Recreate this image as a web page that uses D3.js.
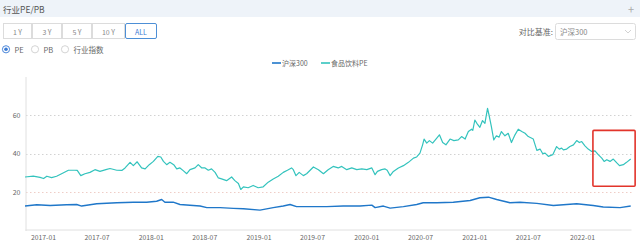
<!DOCTYPE html>
<html><head><meta charset="utf-8">
<script src="https://cdn.jsdelivr.net/npm/d3@7"></script>
<style>
body{margin:0;background:#fff;}
svg{display:block;font-family:"Noto Sans CJK SC","Noto Sans",sans-serif;}
</style>
</head><body><svg id="c" width="640" height="244"></svg>
<script>
// ---------- data ----------
const rangeButtons = ["1 Y","3 Y","5 Y","10 Y","ALL"];
const radioOptions = ["PE","PB","行业指数"];
const seriesNames = ["沪深300","食品饮料PE"];
const xTickLabels = ["2017-01","2017-07","2018-01","2018-07","2019-01","2019-07","2020-01","2020-07","2021-01","2021-07","2022-01"];
const yTickValues = [20,40,60];

const foodDates = ["2016-11-01","2016-11-29","2016-12-22","2017-01-03","2017-01-14","2017-01-30","2017-02-16","2017-03-05","2017-03-28","2017-04-19","2017-04-27","2017-05-09","2017-05-23","2017-06-09","2017-06-26","2017-07-13","2017-08-02","2017-08-16","2017-09-08","2017-09-25","2017-10-06","2017-10-23","2017-11-03","2017-11-16","2017-12-01","2017-12-13","2017-12-27","2018-01-10","2018-01-25","2018-02-04","2018-02-13","2018-02-24","2018-03-07","2018-03-21","2018-03-30","2018-04-10","2018-04-21","2018-05-03","2018-05-14","2018-05-31","2018-06-11","2018-06-23","2018-07-04","2018-07-15","2018-07-26","2018-08-07","2018-08-18","2018-08-29","2018-09-15","2018-10-02","2018-10-13","2018-10-25","2018-11-02","2018-11-11","2018-11-27","2018-12-14","2018-12-31","2019-01-17","2019-02-03","2019-02-20","2019-03-09","2019-03-26","2019-04-09","2019-04-23","2019-04-29","2019-05-08","2019-05-19","2019-06-02","2019-06-13","2019-06-25","2019-07-06","2019-07-23","2019-08-09","2019-08-25","2019-09-11","2019-09-28","2019-10-10","2019-10-27","2019-11-13","2019-11-30","2019-12-17","2020-01-03","2020-01-20","2020-01-31","2020-02-08","2020-02-22","2020-03-05","2020-03-12","2020-03-22","2020-04-02","2020-04-19","2020-05-06","2020-05-23","2020-06-09","2020-06-20","2020-07-01","2020-07-10","2020-07-15","2020-07-24","2020-08-02","2020-08-13","2020-08-27","2020-09-05","2020-09-16","2020-09-27","2020-10-11","2020-10-24","2020-11-08","2020-11-19","2020-12-01","2020-12-12","2020-12-23","2020-12-27","2021-01-03","2021-01-11","2021-01-20","2021-01-29","2021-02-06","2021-02-15","2021-02-20","2021-02-28","2021-03-08","2021-03-17","2021-03-26","2021-04-03","2021-04-15","2021-04-26","2021-05-07","2021-05-19","2021-05-30","2021-06-11","2021-06-22","2021-07-03","2021-07-20","2021-08-01","2021-08-12","2021-08-21","2021-08-29","2021-09-09","2021-09-24","2021-10-07","2021-10-16","2021-10-24","2021-10-30","2021-11-10","2021-11-21","2021-12-03","2021-12-14","2021-12-23","2021-12-31","2022-01-11","2022-01-22","2022-02-03","2022-02-14","2022-02-25","2022-03-09","2022-03-17","2022-03-26","2022-04-06","2022-04-17","2022-04-29","2022-05-08","2022-05-21","2022-06-01","2022-06-15"];
const foodPE = [27.8,28.2,27.6,27.0,28.2,27.5,28.2,29.5,31.3,31.3,31.2,28.5,29.5,30.2,31.6,30.7,31.6,32.2,31.3,31.2,32.5,35.4,33.7,35.7,32.5,32.0,34.2,35.9,38.5,38.2,35.9,34.2,35.4,34.0,32.0,32.5,31.1,29.5,31.6,32.5,34.2,32.5,32.5,31.3,32.0,30.2,27.3,26.8,25.9,27.8,25.9,24.4,21.3,22.7,22.2,23.4,22.2,22.7,25.1,26.8,28.2,30.2,31.3,32.5,31.6,28.5,30.2,28.5,29.5,31.3,33.0,31.6,29.5,31.6,33.3,32.5,33.3,31.6,32.5,31.6,32.0,31.6,32.5,29.0,30.7,31.6,32.0,31.3,28.5,30.7,32.5,33.7,35.4,37.6,38.2,40.2,44.5,47.5,45.4,46.7,45.4,48.0,49.7,45.7,44.5,47.5,46.7,47.1,48.8,47.5,51.4,52.6,52.0,57.4,55.4,53.6,57.1,55.7,63.4,60.0,54.0,47.1,49.2,48.5,51.4,49.2,50.5,45.7,49.7,52.6,51.4,50.5,48.8,47.5,41.6,42.3,39.9,40.2,38.5,39.4,43.6,42.3,42.8,41.9,42.3,43.6,44.5,46.7,45.7,46.2,44.0,42.3,41.1,41.4,39.4,37.6,35.9,36.8,35.9,37.1,35.1,33.7,34.2,35.4,37.1];

const hsDates = ["2016-11-01","2016-12-11","2017-01-25","2017-03-22","2017-04-25","2017-05-12","2017-07-02","2017-09-08","2017-11-03","2017-12-18","2018-01-21","2018-02-07","2018-02-18","2018-03-18","2018-04-10","2018-05-25","2018-06-17","2018-07-10","2018-08-24","2018-10-08","2018-11-11","2019-01-06","2019-02-20","2019-03-26","2019-04-18","2019-05-10","2019-06-25","2019-08-20","2019-10-15","2019-12-11","2020-01-20","2020-01-31","2020-02-28","2020-03-22","2020-05-06","2020-06-20","2020-07-12","2020-08-27","2020-10-22","2020-12-18","2021-01-20","2021-02-18","2021-03-18","2021-05-02","2021-06-05","2021-08-01","2021-09-26","2021-12-14","2022-02-08","2022-03-14","2022-05-10","2022-06-15"];
const hsPE = [12.7,13.4,13.0,13.4,13.5,12.7,13.9,14.4,14.7,14.7,15.2,16.1,14.7,14.7,13.5,13.0,12.7,11.9,11.9,11.5,11.3,10.6,11.9,12.7,13.5,12.4,12.4,12.4,12.7,12.7,13.2,11.9,12.7,11.6,12.4,13.5,14.4,14.4,14.7,15.6,17.0,17.3,16.1,14.4,14.7,14.1,13.0,13.9,13.0,12.2,11.9,12.7];

const highlightBox = {from:"2022-02-07", to:"2022-06-30", top:52, bottom:23};

// ---------- drawing ----------
const svg = d3.select("#c");
const parse = d3.timeParse("%Y-%m-%d");
const parseM = d3.timeParse("%Y-%m");
const fontCJK = '"Noto Sans CJK SC","Noto Sans",sans-serif';

// header band
svg.append("rect").attr("x",0).attr("y",0).attr("width",640).attr("height",17).attr("fill","#eef3f9");
svg.append("text").attr("x",3).attr("y",9).attr("dominant-baseline","central")
  .attr("font-size",8.5).attr("fill","#555").text("行业PE/PB");
svg.append("text").attr("x",631).attr("y",8.5).attr("dominant-baseline","central").attr("text-anchor","middle")
  .attr("font-size",11).attr("fill","#aaa").text("+");

// range buttons
const btnEdges = [3,32,62,92,125,157];
const btnG = svg.append("g");
rangeButtons.forEach((b,i)=>{
  const sel = b==="ALL";
  btnG.append("rect").attr("x",btnEdges[i]+0.5).attr("y",23.5).attr("width",btnEdges[i+1]-btnEdges[i]-1).attr("height",15)
    .attr("fill","#fff").attr("stroke",sel?"#4d8fd6":"#dcdcdc").attr("stroke-width",1).attr("rx",sel?1.5:0);
  btnG.append("text").attr("x",(btnEdges[i]+btnEdges[i+1])/2).attr("y",31.5).attr("text-anchor","middle")
    .attr("dominant-baseline","central").attr("font-size",7).attr("fill",sel?"#3a7bd5":"#888").text(b);
});

// radios
const radioX = [6,35,65];
radioOptions.forEach((r,i)=>{
  const sel = i===0;
  svg.append("circle").attr("cx",radioX[i]).attr("cy",49.3).attr("r",3.6).attr("fill","#fff")
    .attr("stroke",sel?"#3a7bd5":"#cfcfcf").attr("stroke-width",0.9);
  if(sel) svg.append("circle").attr("cx",radioX[i]).attr("cy",49.3).attr("r",1.8).attr("fill","#3a7bd5");
  svg.append("text").attr("x",radioX[i]+8.5).attr("y",49.5).attr("dominant-baseline","central")
    .attr("font-size",7.5).attr("fill","#666").text(r);
});

// compare selector
svg.append("text").attr("x",553).attr("y",31.5).attr("text-anchor","end").attr("dominant-baseline","central")
  .attr("font-size",8).attr("fill","#666").text("对比基准:");
svg.append("rect").attr("x",555.5).attr("y",23.5).attr("width",80).attr("height",16).attr("rx",2)
  .attr("fill","#fff").attr("stroke","#dcdcdc");
svg.append("text").attr("x",560).attr("y",31.5).attr("dominant-baseline","central")
  .attr("font-size",7.5).attr("fill","#888").text(seriesNames[0]);
svg.append("path").attr("d","M625,30 L628,33 L631,30").attr("fill","none").attr("stroke","#c8c8c8").attr("stroke-width",0.8);

// colors
const colors = ["#1f77c9","#33c3bd"];

// legend
const legX = [272,321];
seriesNames.forEach((n,i)=>{
  svg.append("line").attr("x1",legX[i]).attr("x2",legX[i]+9).attr("y1",63).attr("y2",63)
    .attr("stroke",colors[i]).attr("stroke-width",1.6);
  svg.append("text").attr("x",legX[i]+10).attr("y",63.3).attr("dominant-baseline","central")
    .attr("font-size",7).attr("fill","#666").text(n);
});

// scales
const x = d3.scaleTime().domain([parse("2016-11-01"), parse("2022-06-16")]).range([25,631]);
const y = d3.scaleLinear().domain([0,80]).range([230.5,76.5]);

// gridlines
yTickValues.forEach(v=>{
  svg.append("line").attr("x1",26).attr("x2",632).attr("y1",Math.round(y(v))+0.5).attr("y2",Math.round(y(v))+0.5)
    .attr("stroke", v===20 ? "#efcdc6" : "#d2d2d2").attr("stroke-width",1).attr("stroke-dasharray","1.5,2.5");
});

// y axis
const yAxis = d3.axisLeft(y).tickValues(yTickValues).tickSize(0).tickPadding(5);
const yg = svg.append("g").attr("transform","translate(25.5,0)").call(yAxis);
yg.select(".domain").attr("stroke","#e0e0e0");
yg.selectAll("text").attr("font-size",7).attr("fill","#666").attr("font-family",fontCJK);

// x axis
const xAxis = d3.axisBottom(x).tickValues(xTickLabels.map(parseM)).tickFormat(d3.timeFormat("%Y-%m")).tickSize(0).tickPadding(6);
const xg = svg.append("g").attr("transform","translate(0,229.5)").call(xAxis);
xg.select(".domain").attr("stroke","#e0e0e0");
xg.selectAll("text").attr("font-size",6.8).attr("fill","#666").attr("font-family",fontCJK);

// lines
const line = d3.line().x(d=>x(d[0])).y(d=>y(d[1])).curve(d3.curveLinear);
const hsData = hsDates.map((d,i)=>[parse(d),hsPE[i]]);
const foodData = foodDates.map((d,i)=>[parse(d),foodPE[i]]);
svg.append("path").datum(hsData).attr("d",line).attr("fill","none").attr("stroke",colors[0]).attr("stroke-width",1.4).attr("stroke-linejoin","round");
svg.append("path").datum(foodData).attr("d",line).attr("fill","none").attr("stroke",colors[1]).attr("stroke-width",1.2).attr("stroke-linejoin","round");

// highlight annotation
const bx0 = x(parse(highlightBox.from)), bx1 = x(parse(highlightBox.to));
svg.append("rect").attr("x",bx0).attr("y",y(highlightBox.top)).attr("width",bx1-bx0)
  .attr("height",y(highlightBox.bottom)-y(highlightBox.top)).attr("fill","none")
  .attr("stroke","#e2342b").attr("stroke-width",1.6).attr("rx",1);
</script></body></html>
